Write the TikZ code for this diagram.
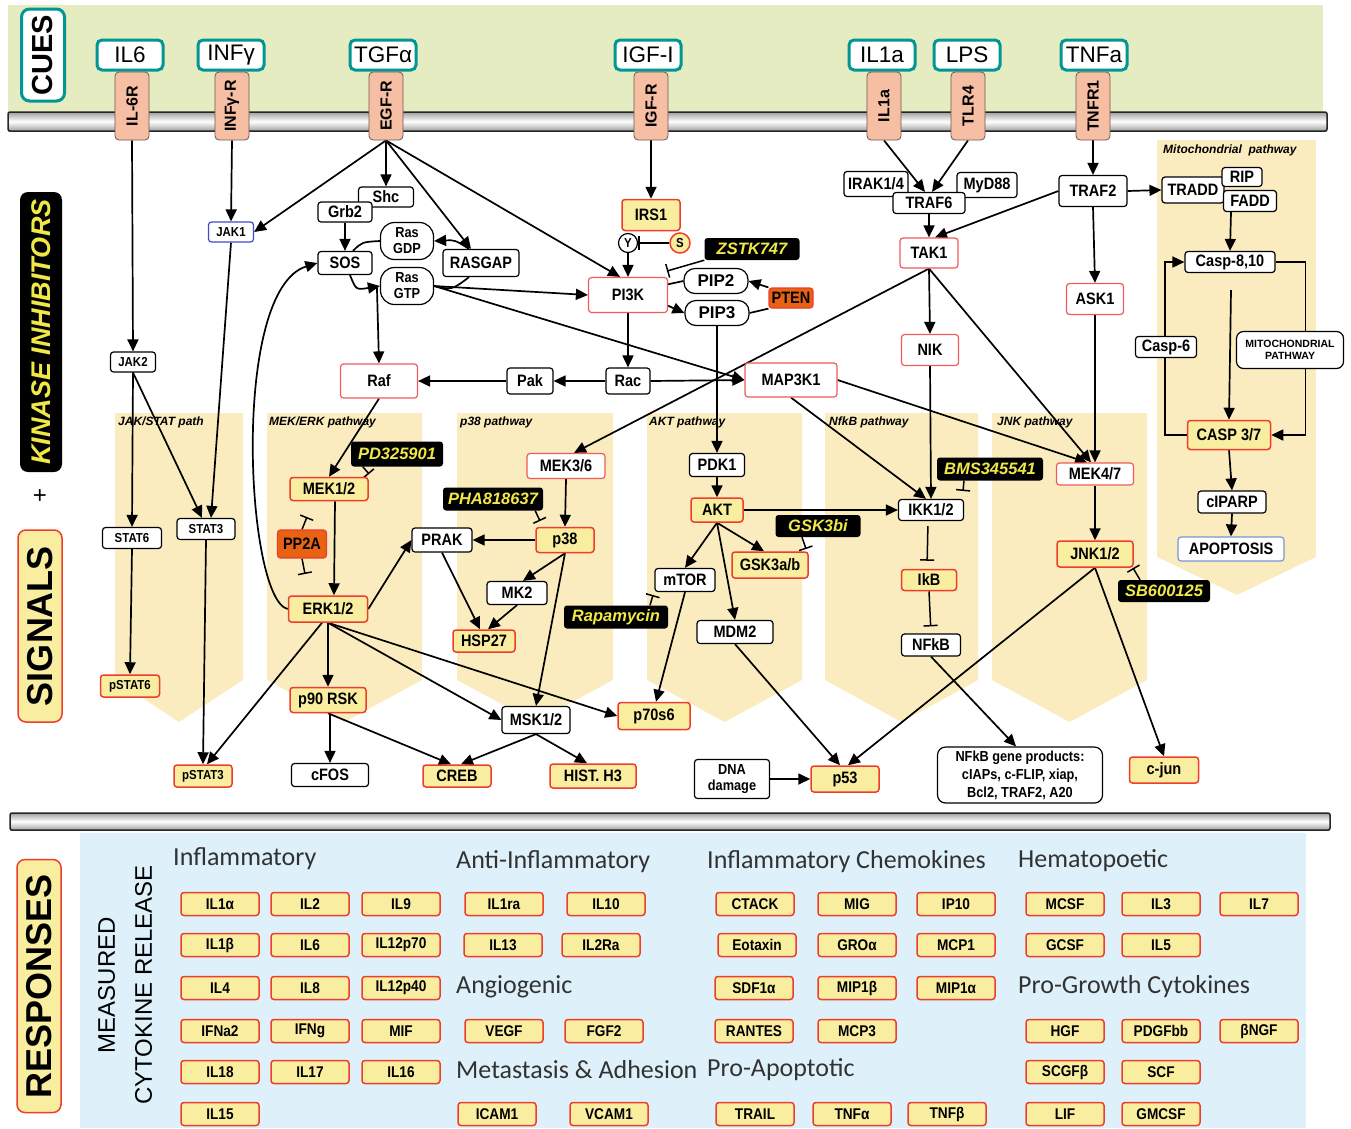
\documentclass[tikz,border=0pt]{standalone}
\usepackage{fontspec}
\setmainfont{Liberation Sans}
\newfontfamily\nodesans[FakeStretch=0.88]{Liberation Sans}
\newfontfamily\myriadlike{Carlito}
\usepackage{xcolor}
\definecolor{cueGreen}{RGB}{229,236,194}
\definecolor{cueTeal}{RGB}{0,150,145}
\definecolor{recFill}{RGB}{246,190,162}
\definecolor{recEdge}{RGB}{110,90,80}
\definecolor{panelTan}{RGB}{251,236,192}
\definecolor{phosFill}{RGB}{249,238,160}
\definecolor{phosRed}{RGB}{238,60,45}
\definecolor{kinRed}{RGB}{240,90,90}
\definecolor{drugYellow}{RGB}{240,232,70}
\definecolor{ppOrange}{RGB}{232,98,20}
\definecolor{respBlue}{RGB}{222,241,250}
\definecolor{apopBlue}{RGB}{120,150,210}
\definecolor{jakBlue}{RGB}{70,70,200}
\definecolor{catGray}{RGB}{50,50,50}
\newcommand\sigfont{\nodesans\bfseries\fontsize{16.5}{17}\selectfont}
\newcommand\smallsigfont{\nodesans\bfseries\fontsize{13}{14}\selectfont}
\newcommand\cytofont{\nodesans\bfseries\fontsize{15.5}{16}\selectfont}
\newcommand\drugfont{\bfseries\itshape\fontsize{16.5}{17}\selectfont}
\newcommand\cuefont{\fontsize{22.5}{24}\selectfont}
\newcommand\recfont{\bfseries\fontsize{16}{17}\selectfont}
\newcommand\panelfont{\bfseries\itshape\fontsize{12}{13}\selectfont}
\newcommand\catfont{\myriadlike\fontsize{26}{27}\selectfont}
\newcommand\pipfont{\bfseries\fontsize{17}{18}\selectfont}
\newcommand\rasfont{\nodesans\bfseries\fontsize{14.5}{16}\selectfont}
\newcommand\mitofont{\bfseries\fontsize{10.5}{12.5}\selectfont}
\newcommand\genefont{\nodesans\bfseries\fontsize{14.5}{18}\selectfont}
\usepackage{tikz}
\usetikzlibrary{positioning,arrows.meta,calc}
\pgfdeclarelayer{bg}
\pgfdeclarelayer{edges}
\pgfsetlayers{bg,edges,main}
\tikzset{
  cue/.style={draw=cueTeal, line width=3pt, rounded corners=5pt, fill=white,
    minimum width=66pt, minimum height=30pt, inner sep=0pt, font=\cuefont},
  receptor/.style={draw=recEdge, line width=0.8pt, fill=recFill, rounded corners=4pt,
    rotate=90, minimum width=68pt, minimum height=34pt, inner sep=0pt, font=\recfont},
  sig/.style={draw=black, line width=1.2pt, fill=white, rounded corners=3pt,
    inner sep=1pt, minimum height=22pt, minimum width=#1, font=\sigfont},
  sig/.default=56pt,
  kin/.style={sig=#1, draw=kinRed},
  kin/.default=76pt,
  phos/.style={sig=#1, draw=phosRed, fill=phosFill, line width=1.5pt},
  phos/.default=56pt,
  drug/.style={fill=black, text=drugYellow, rounded corners=3pt, inner sep=2pt,
    minimum height=22pt, minimum width=#1, font=\drugfont},
  drug/.default=92pt,
  cyto/.style={phos=78pt, minimum height=23pt, font=\cytofont},
  arr/.style={-{Triangle[length=12pt,width=11pt]}, line width=1.7pt},
  inhib/.style={-{Bar[width=14pt]}, line width=1.5pt},
  plabel/.style={font=\panelfont, anchor=west, inner sep=0pt},
  cattitle/.style={font=\catfont, text=catGray, anchor=west, inner sep=0pt},
  biglabel/.style={rotate=90, rounded corners=8pt, inner sep=0pt}
}

\begin{document}
\begin{tikzpicture}[x=1pt, y=-1pt]
  \useasboundingbox (0,0) rectangle (1351,1128);

  % backgrounds, membranes and pathway panels
  \begin{pgfonlayer}{bg}
    \fill[cueGreen] (8,5) rectangle (1323,118);
    \fill[respBlue] (80,833) rectangle (1306,1128);
    \shade[top color=gray!75, bottom color=gray!75, middle color=white]
      (8,112) rectangle (1327,131);
    \draw[black!85, line width=1.5pt, rounded corners=2pt] (8,112) rectangle (1327,131);
    \shade[top color=gray!75, bottom color=gray!75, middle color=white]
      (10,813) rectangle (1330,830);
    \draw[black!85, line width=1.5pt, rounded corners=2pt] (10,813) rectangle (1330,830);
    \foreach \xa/\xb in {115/243,267/422,457/613,647/802,825/978,992/1147}
      \fill[panelTan] (\xa,413) -- (\xb,413) -- (\xb,680) -- ({(\xa+\xb)/2},722)
        -- (\xa,680) -- cycle;
    \fill[panelTan] (1157,140) -- (1316,140) -- (1316,557) -- (1237,595)
      -- (1157,557) -- cycle;
    \node[plabel] (ljak) at (118,422) {JAK/STAT path};
    \node[plabel] (lmek) at (269,422) {MEK/ERK pathway};
    \node[plabel] (lp38) at (460,422) {p38 pathway};
    \node[plabel] (lakt) at (649,422) {AKT pathway};
    \node[plabel] (lnfkb) at (829,422) {NfkB pathway};
    \node[plabel] (ljnk) at (997,422) {JNK pathway};
    \node[plabel] (lmito) at (1163,150) {Mitochondrial\ \ pathway};
  \end{pgfonlayer}

  % side labels
  \node[biglabel, draw=cueTeal, line width=3pt, fill=white, minimum width=92pt,
    minimum height=43pt, font=\bfseries\fontsize{29}{30}\selectfont] (cues) at (43,55) {CUES};
  \node[biglabel, fill=black, text=drugYellow, minimum width=280pt, minimum height=42pt,
    font=\bfseries\itshape\fontsize{27}{28}\selectfont] (kinh) at (41,332) {KINASE INHIBITORS};
  \node[font=\fontsize{24}{24}\selectfont] (plus) at (40,497) {+};
  \node[biglabel, fill=phosFill, draw=phosRed, line width=1.5pt, minimum width=192pt,
    minimum height=44pt, font=\bfseries\fontsize{36}{37}\selectfont] (signals) at (40,626) {SIGNALS};
  \node[biglabel, fill=phosFill, draw=phosRed, line width=1.5pt, minimum width=253pt,
    minimum height=44pt, font=\bfseries\fontsize{36}{37}\selectfont] (resp) at (39,986) {RESPONSES};
  \node[rotate=90, align=center, font=\fontsize{24}{37}\selectfont] (measured) at (125,985)
    {MEASURED\\CYTOKINE RELEASE};

  % cues and receptors
  \node[cue] (il6) at (130,55) {IL6};
  \node[cue] (infg) at (231,55) {INFγ};
  \node[cue] (tgfa) at (383,55) {TGFα};
  \node[cue] (igf) at (648,55) {IGF-I};
  \node[cue] (il1a) at (882,55) {IL1a};
  \node[cue] (lps) at (967,55) {LPS};
  \node[cue] (tnfa) at (1094,55) {TNFa};
  \node[receptor] (il6r) at (132,106) {IL-6R};
  \node[receptor] (infgr) at (232,106) {INFγ-R};
  \node[receptor] (egfr) at (386,106) {EGF-R};
  \node[receptor] (igfr) at (651,106) {IGF-R};
  \node[receptor] (il1r) at (884,106) {IL1a};
  \node[receptor] (tlr4) at (968,106) {TLR4};
  \node[receptor] (tnfr1) at (1093,106) {TNFR1};

  % signalling nodes
  \node[sig=64pt, minimum height=25pt] (irak) at (876,184) {IRAK1/4};
  \node[sig=60pt, minimum height=25pt] (myd88) at (987,185) {MyD88};
  \node[sig=72pt, minimum height=21pt] (traf6) at (929,203) {TRAF6};
  \node[sig=68pt, minimum height=31pt] (traf2) at (1093,191) {TRAF2};
  \node[sig=62pt, minimum height=26pt] (tradd) at (1193,190) {TRADD};
  \node[sig=40pt, minimum height=19pt] (rip) at (1242,177) {RIP};
  \node[sig=53pt, minimum height=21pt] (fadd) at (1250,201) {FADD};
  \node[sig=55pt, minimum height=20pt] (shc) at (386,197) {Shc};
  \node[sig=54pt, minimum height=20pt] (grb2) at (345,212) {Grb2};
  \node[sig=45pt, minimum height=20pt, draw=jakBlue, font=\smallsigfont] (jak1) at (231,232) {JAK1};
  \node[sig=54pt, minimum height=23pt] (sos) at (345,263) {SOS};
  \node[sig=53pt, minimum height=37pt, rounded corners=14pt, align=center, font=\rasfont]
    (rasgdp) at (407,241) {Ras\\GDP};
  \node[sig=53pt, minimum height=37pt, rounded corners=14pt, align=center, font=\rasfont]
    (rasgtp) at (407,286) {Ras\\GTP};
  \node[sig=76pt, minimum height=27pt] (rasgap) at (481,263) {RASGAP};
  \node[phos=58pt, minimum height=31pt] (irs1) at (651,215) {IRS1};
  \node[circle, draw, line width=1.2pt, fill=white, inner sep=0pt, minimum size=19pt,
    font=\smallsigfont] (ysite) at (628,243) {Y};
  \node[circle, draw=phosRed, fill=phosFill, line width=1.5pt, inner sep=0pt,
    minimum size=20pt, font=\smallsigfont] (ssite) at (680,243) {S};
  \node[drug=95pt] (zstk) at (752,249) {ZSTK747};
  \node[kin=79pt, minimum height=35pt] (pi3k) at (628,295) {PI3K};
  \node[sig=64pt, minimum height=25pt, rounded corners=11pt, font=\pipfont] (pip2) at (716,281) {PIP2};
  \node[sig=64pt, minimum height=25pt, rounded corners=11pt, font=\pipfont] (pip3) at (717,313) {PIP3};
  \node[sig=44pt, minimum height=20pt, fill=ppOrange, draw=phosRed] (pten) at (791,298) {PTEN};
  \node[kin=58pt, minimum height=30pt] (tak1) at (929,253) {TAK1};
  \node[kin=57pt, minimum height=31pt] (ask1) at (1095,299) {ASK1};
  \node[sig=90pt, minimum height=21pt] (casp810) at (1230,262) {Casp-8,10};
  \node[sig=61pt, minimum height=21pt] (casp6) at (1166,347) {Casp-6};
  \node[sig=107pt, minimum height=37pt, rounded corners=7pt, align=center, font=\mitofont]
    (mito) at (1290,350) {MITOCHONDRIAL\\PATHWAY};
  \node[kin=57pt, minimum height=31pt] (nik) at (930,350) {NIK};
  \node[sig=45pt, minimum height=20pt, font=\smallsigfont] (jak2) at (133,362) {JAK2};
  \node[kin=77pt, minimum height=34pt] (raf) at (379,381) {Raf};
  \node[sig=46pt, minimum height=26pt] (pak) at (530,381) {Pak};
  \node[sig=44pt, minimum height=26pt] (rac) at (628,381) {Rac};
  \node[kin=92pt, minimum height=34pt] (map3k1) at (791,380) {MAP3K1};
  \node[phos=83pt, minimum height=29pt] (casp37) at (1229,435) {CASP 3/7};
  \node[sig=68pt] (ciparp) at (1232,502) {cIPARP};
  \node[sig=106pt, minimum height=24pt, draw=apopBlue] (apop) at (1231,549) {APOPTOSIS};
  \node[drug=92pt, minimum height=25pt] (pd) at (397,454) {PD325901};
  \node[phos=78pt, minimum height=23pt] (mek12) at (329,489) {MEK1/2};
  \node[kin=78pt, minimum height=25pt] (mek36) at (566,466) {MEK3/6};
  \node[sig=55pt, minimum height=23pt] (pdk1) at (717,465) {PDK1};
  \node[drug=100pt, minimum height=23pt] (pha) at (493,499) {PHA818637};
  \node[phos=52pt, minimum height=24pt] (akt) at (717,510) {AKT};
  \node[drug=106pt, minimum height=23pt] (bms) at (990,469) {BMS345541};
  \node[kin=77pt, minimum height=22pt] (mek47) at (1095,474) {MEK4/7};
  \node[sig=65pt, minimum height=21pt] (ikk) at (931,510) {IKK1/2};
  \node[drug=85pt, minimum height=22pt] (gsk3bi) at (818,526) {GSK3bi};
  \node[sig=59pt, minimum height=21pt, font=\smallsigfont] (stat6) at (132,538) {STAT6};
  \node[sig=58pt, minimum height=21pt, font=\smallsigfont] (stat3) at (206,529) {STAT3};
  \node[sig=60pt, minimum height=24pt] (prak) at (442,540) {PRAK};
  \node[phos=58pt, minimum height=25pt] (p38) at (565,540) {p38};
  \node[sig=49pt, minimum height=28pt, fill=ppOrange, draw=phosRed] (pp2a) at (302,544) {PP2A};
  \node[phos=76pt, minimum height=26pt] (gsk3ab) at (770,565) {GSK3a/b};
  \node[phos=76pt, minimum height=26pt] (jnk12) at (1095,554) {JNK1/2};
  \node[sig=60pt, minimum height=23pt] (mtor) at (685,580) {mTOR};
  \node[phos=55pt, minimum height=21pt] (ikb) at (929,580) {IkB};
  \node[sig=60pt, minimum height=23pt] (mk2) at (517,593) {MK2};
  \node[drug=92pt, minimum height=22pt] (sb) at (1164,591) {SB600125};
  \node[phos=79pt, minimum height=26pt] (erk12) at (328,609) {ERK1/2};
  \node[drug=104pt, minimum height=23pt] (rapa) at (616,617) {Rapamycin};
  \node[phos=62pt, minimum height=22pt] (hsp27) at (484,641) {HSP27};
  \node[sig=76pt, minimum height=23pt] (mdm2) at (735,632) {MDM2};
  \node[sig=59pt, minimum height=22pt] (nfkb) at (931,645) {NFkB};
  \node[phos=59pt, minimum height=22pt, font=\smallsigfont] (pstat6) at (130,686) {pSTAT6};
  \node[phos=76pt, minimum height=25pt] (p90rsk) at (328,700) {p90 RSK};
  \node[sig=68pt, minimum height=27pt] (msk12) at (536,720) {MSK1/2};
  \node[phos=72pt, minimum height=27pt] (p70s6) at (654,716) {p70s6};
  \node[sig=75pt, minimum height=39pt, align=center, font=\rasfont] (dna) at (732,779) {DNA\\damage};
  \node[phos=68pt, minimum height=26pt] (p53) at (845,779) {p53};
  \node[sig=165pt, minimum height=56pt, rounded corners=8pt, align=center, font=\genefont]
    (nfkbgp) at (1020,775) {NFkB gene products:\\cIAPs, c-FLIP, xiap,\\Bcl2, TRAF2, A20};
  \node[phos=69pt, minimum height=26pt] (cjun) at (1164,770) {c-jun};
  \node[phos=58pt, minimum height=22pt, font=\smallsigfont] (pstat3) at (203,776) {pSTAT3};
  \node[sig=77pt, minimum height=23pt] (cfos) at (330,775) {cFOS};
  \node[phos=68pt, minimum height=22pt] (creb) at (457,776) {CREB};
  \node[phos=86pt, minimum height=24pt] (hist) at (593,776) {HIST. H3};

  % free ends of inhibition bars
  \coordinate (zstkT) at (667,271);
  \coordinate (pdT) at (369,474);
  \coordinate (phaT) at (540,521);
  \coordinate (gskT) at (806,549);
  \coordinate (rapaT) at (653,595);
  \coordinate (bmsT) at (963,491);
  \coordinate (sbT) at (1133,568);
  \coordinate (ppT1) at (307,517);
  \coordinate (ppT2) at (305,574);
  \coordinate (caspgap) at (1231,290);

  \begin{pgfonlayer}{edges}
    % JAK/STAT
    \draw[arr] (il6r.west) -- (jak2.north);
    \draw[arr] (infgr.west) -- (jak1.north);
    \draw[arr] (jak1.south) -- ([xshift=5pt]stat3.north);
    \draw[arr] (jak2.south) -- (stat6.north);
    \draw[arr] (jak2.south) -- ([xshift=-4pt]stat3.north);
    \draw[arr] (stat6.south) -- (pstat6.north);
    \draw[arr] (stat3.south) -- (pstat3.north);
    % EGF-R and Ras
    \draw[arr] (egfr.west) -- (jak1.east);
    \draw[arr] (egfr.west) -- (shc.north);
    \draw[arr] (egfr.west) -- ([xshift=-10pt]rasgap.north);
    \draw[arr] (egfr.west) -- ([xshift=-8pt]pi3k.north);
    \draw[arr] (grb2.south) -- (sos.north);
    \draw[line width=1.7pt] (rasgdp.west) .. controls (362,242) .. ([xshift=8pt]sos.north);
    \draw[arr] ([xshift=5pt]sos.south) .. controls (356,290) .. (rasgtp.west);
    \draw[line width=1.7pt] (rasgtp.east) .. controls (452,290) .. ([xshift=-12pt]rasgap.south);
    \draw[arr] ([xshift=-12pt]rasgap.north) .. controls (455,240) .. (rasgdp.east);
    \draw[arr] ([xshift=-3pt]rasgtp.west) -- (raf.north);
    \draw[arr] (rasgtp.east) -- (pi3k.west);
    \draw[arr] (rasgtp.east) -- (map3k1.west);
    % IGF / PI3K
    \draw[arr] (igfr.west) -- (irs1.north);
    \draw[inhib] (ssite.west) -- (ysite.east);
    \draw[arr] (ysite.south) -- (pi3k.north);
    \draw[inhib] (zstk.south west) -- (zstkT);
    \draw[line width=1.7pt] (pip2.west) -- (pi3k.15);
    \draw[arr] (pi3k.-15) -- (pip3.west);
    \draw[line width=1.7pt] (pip3.east) -- (pten.south west);
    \draw[arr] (pten.north west) -- (pip2.east);
    \draw[arr] (pi3k.south) -- (rac.north);
    \draw[arr] (rac.west) -- (pak.east);
    \draw[arr] (pak.west) -- (raf.east);
    \draw[arr] (rac.east) -- (map3k1.west);
    \draw[arr] (pip3.south) -- (pdk1.north);
    % IL1 / LPS / TNF
    \draw[arr] (il1r.west) -- ([xshift=-4pt]traf6.north);
    \draw[arr] (tlr4.west) -- ([xshift=3pt]traf6.north);
    \draw[arr] (traf6.south) -- (tak1.north);
    \draw[arr] (tnfr1.west) -- (traf2.north);
    \draw[arr] (traf2.west) -- ([xshift=6pt]tak1.north);
    \draw[arr] (traf2.east) -- (tradd.west);
    \draw[arr] (traf2.south) -- (ask1.north);
    % mitochondrial pathway
    \draw[arr] ([xshift=-19pt]fadd.south) -- (casp810.north);
    \draw[arr] (caspgap) -- (casp37.north);
    \draw[arr] (casp810.east) -- ++(30,0) |- (casp37.east);
    \draw[arr] (casp37.west) -- ++(-22,0) |- (casp810.west);
    \draw[arr] (casp37.south) -- (ciparp.north);
    \draw[arr] (ciparp.south) -- (apop.north);
    % TAK1, MAP3K1, ASK1
    \draw[arr] (tak1.south) -- (nik.north);
    \draw[arr] (tak1.south) -- ([xshift=8pt]mek36.north);
    \draw[arr] (tak1.south) -- ([xshift=-4pt]mek47.north);
    \draw[arr] (map3k1.east) -- ([xshift=-8pt]mek47.north);
    \draw[arr] (map3k1.south) -- ([xshift=-5pt]ikk.north);
    \draw[arr] (ask1.south) -- (mek47.north);
    % NFkB
    \draw[arr] (nik.south) -- (ikk.north);
    \draw[arr] (akt.east) -- (ikk.west);
    \draw[inhib, shorten <=5pt, shorten >=8pt] ([xshift=-3pt]ikk.south) -- ([xshift=-2pt]ikb.north);
    \draw[inhib, shorten >=7pt] (ikb.south) -- (nfkb.north);
    \draw[arr] (nfkb.south) -- ([xshift=-4pt]nfkbgp.north);
    \draw[inhib] ([xshift=-26pt]bms.south) -- (bmsT);
    % MEK/ERK
    \draw[arr] (raf.south) -- (mek12.north);
    \draw[inhib] ([xshift=12pt]pd.south west) -- (pdT);
    \draw[arr] ([xshift=6pt]mek12.south) -- ([xshift=6pt]erk12.north);
    \draw[inhib] (pp2a.north) -- (ppT1);
    \draw[inhib] (pp2a.south) -- (ppT2);
    \draw[arr] (erk12.west) .. controls (246,600) and (230,290) .. (sos.west);
    \draw[arr] (erk12.east) -- (prak.west);
    \draw[arr] (erk12.south) -- (p90rsk.north);
    \draw[arr] ([xshift=-6pt]erk12.south) -- ([xshift=4pt]pstat3.north);
    \draw[arr] (erk12.south) -- (msk12.west);
    \draw[arr] (erk12.south) -- (p70s6.west);
    \draw[arr] ([xshift=2pt]p90rsk.south) -- (cfos.north);
    \draw[arr] (p90rsk.south) -- ([xshift=-6pt]creb.north);
    \draw[arr] (msk12.south) -- ([xshift=4pt]creb.north);
    \draw[arr] (msk12.south) -- ([xshift=-6pt]hist.north);
    % p38
    \draw[arr] (mek36.south) -- (p38.north);
    \draw[inhib] ([xshift=-8pt]pha.south east) -- (phaT);
    \draw[arr] (p38.west) -- (prak.east);
    \draw[arr] (p38.south) -- ([xshift=6pt]mk2.north);
    \draw[arr] (p38.south) -- (msk12.north);
    \draw[arr] (prak.south) -- ([xshift=-4pt]hsp27.north);
    \draw[arr] (mk2.south) -- ([xshift=4pt]hsp27.north);
    % AKT
    \draw[arr] (pdk1.south) -- (akt.north);
    \draw[arr] (akt.south) -- (mtor.north);
    \draw[arr] (akt.south) -- ([xshift=-6pt]gsk3ab.north);
    \draw[arr] (akt.south) -- (mdm2.north);
    \draw[inhib] ([xshift=-16pt]gsk3bi.south) -- (gskT);
    \draw[inhib] ([xshift=34pt]rapa.north) -- (rapaT);
    \draw[arr] (mtor.south) -- ([xshift=2pt]p70s6.north);
    \draw[arr] (mdm2.south) -- ([xshift=-5pt]p53.north);
    % JNK
    \draw[arr] (mek47.south) -- (jnk12.north);
    \draw[inhib] ([xshift=-24pt]sb.north) -- (sbT);
    \draw[arr] (jnk12.south) -- ([xshift=3pt]p53.north);
    \draw[arr] (jnk12.south) -- (cjun.north);
    \draw[arr] (dna.east) -- (p53.west);
  \end{pgfonlayer}

  % responses
  \node[cattitle] (tinfl) at (173,859) {Inflammatory};
  \node[cattitle] (tanti) at (456,862) {Anti-Inflammatory};
  \node[cattitle] (tchem) at (707,862) {Inflammatory Chemokines};
  \node[cattitle] (themat) at (1018,861) {Hematopoetic};
  \node[cattitle] (tangio) at (456,987) {Angiogenic};
  \node[cattitle] (tgrowth) at (1018,987) {Pro-Growth Cytokines};
  \node[cattitle] (tmeta) at (456,1070) {Metastasis \& Adhesion};
  \node[cattitle] (tapop) at (707,1070) {Pro-Apoptotic};
  \foreach \lbl/\x/\y [count=\i] in {
      IL1α/220/904, IL2/310/904, IL9/401/904, IL1ra/504/904, IL10/606/904,
      CTACK/755/904, MIG/857/904, IP10/956/904, MCSF/1065/904, IL3/1161/904, IL7/1259/904,
      IL1β/220/945, IL6/310/945, IL12p70/401/945, IL13/503/945, IL2Ra/601/945,
      Eotaxin/757/945, GROα/857/945, MCP1/956/945, GCSF/1065/945, IL5/1161/945,
      IL4/220/988, IL8/310/988, IL12p40/401/988, SDF1α/754/988, MIP1β/857/988, MIP1α/956/988,
      IFNa2/220/1031, IFNg/310/1031, MIF/401/1031, VEGF/504/1031, FGF2/604/1031,
      RANTES/754/1031, MCP3/857/1031, HGF/1065/1031, PDGFbb/1161/1031, βNGF/1259/1031,
      IL18/220/1072, IL17/310/1072, IL16/401/1072, SCGFβ/1065/1072, SCF/1161/1072,
      IL15/220/1114, ICAM1/497/1114, VCAM1/609/1114, TRAIL/755/1114, TNFα/852/1114,
      TNFβ/947/1114, LIF/1065/1114, GMCSF/1161/1114}
    \node[cyto] (cyt\i) at (\x,\y) {\lbl};
\end{tikzpicture}
\end{document}
